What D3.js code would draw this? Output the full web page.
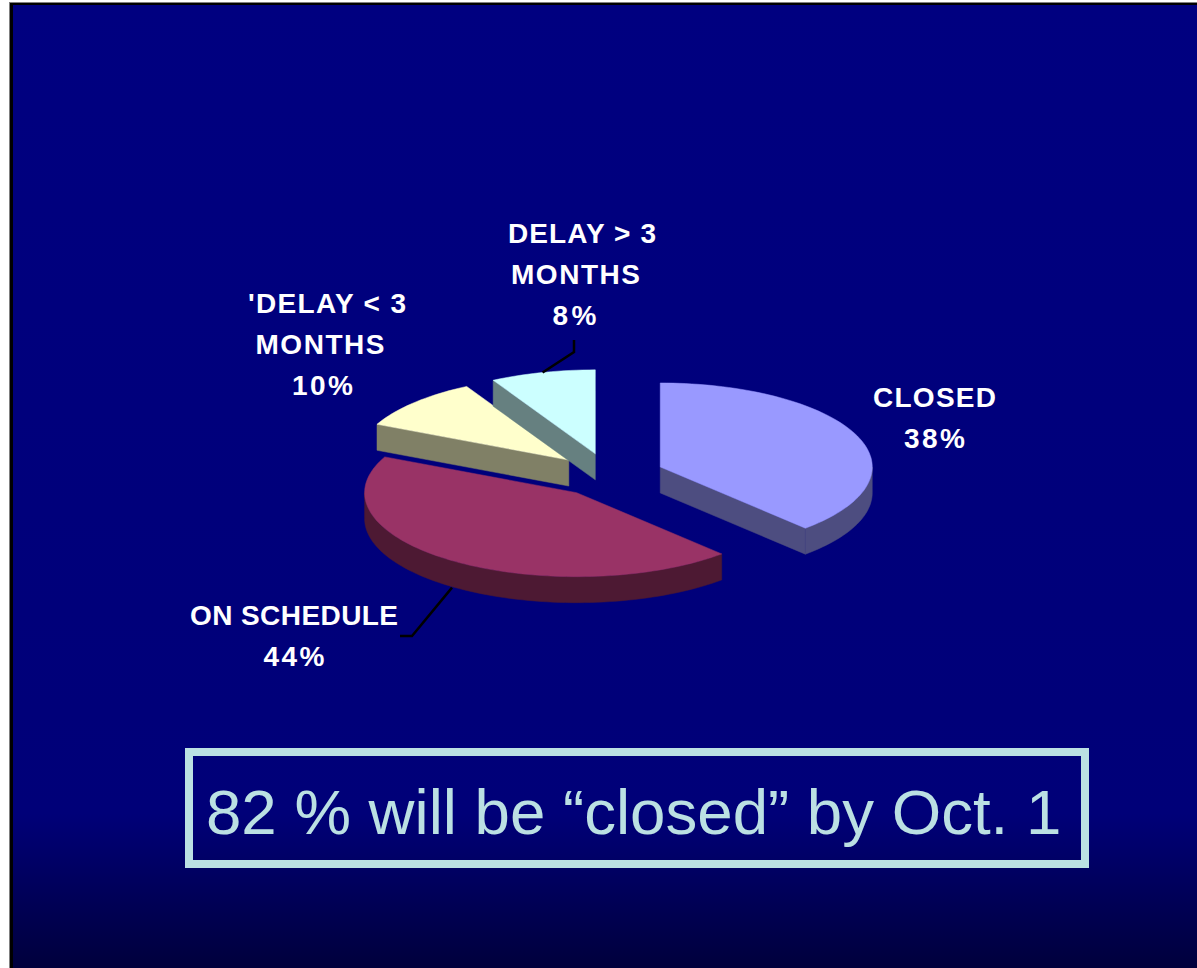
<!DOCTYPE html>
<html>
<head>
<meta charset="utf-8">
<script src="https://cdn.jsdelivr.net/npm/d3@7"></script>
<style>
  body { margin: 0; background: white; }
  svg { display: block; }
  text { font-family: "Liberation Sans", Arial, sans-serif; }
</style>
</head>
<body>
<div id="container"></div>
<script>
// chart values
let categories = ["CLOSED", "ON SCHEDULE", "DELAY < 3 MONTHS", "DELAY > 3 MONTHS"];
let values = [38, 44, 10, 8];
let topColors = ["#9999ff", "#993366", "#ffffcc", "#ccffff"];
let sideColors = ["#4d4d80", "#4d1933", "#808066", "#668080"];
let noteText = "82 % will be \u201cclosed\u201d by Oct. 1";

let w = 1197;
let h = 968;
let explode = 0.26;
let depth = 26;

let viz = d3.select("#container")
  .append("svg")
    .attr("width", w)
    .attr("height", h)
;

// slide background
let defs = viz.append("defs");
let grad = defs.append("linearGradient")
    .attr("id", "bg")
    .attr("x1", 0).attr("y1", 0).attr("x2", 0).attr("y2", 1);
grad.append("stop").attr("offset", "0%").attr("stop-color", "#000080");
grad.append("stop").attr("offset", "84%").attr("stop-color", "#000078");
grad.append("stop").attr("offset", "100%").attr("stop-color", "#00003c");

viz.append("rect").attr("x", 9).attr("y", 2).attr("width", w - 9).attr("height", h - 2).attr("fill", "#808080");
viz.append("rect").attr("x", 10).attr("y", 3).attr("width", w - 10).attr("height", h - 3).attr("fill", "black");
viz.append("rect").attr("x", 13).attr("y", 5).attr("width", w - 13).attr("height", h - 5).attr("fill", "url(#bg)");

// unit circle -> flattened ellipse on screen
let xScale = d3.scaleLinear().domain([-1, 1]).range([609 - 212, 609 + 212]);
let yScale = d3.scaleLinear().domain([-1, 1]).range([475 - 84, 475 + 84]);

let pie = d3.pie().sort(null).startAngle(0).endAngle(2 * Math.PI);
let slices = pie(values);

let lineMaker = d3.line()
    .x(function(d){ return d[0]; })
    .y(function(d){ return d[1]; })
    .curve(d3.curveLinearClosed)
;

// offset of a slice along its middle angle
function midAngle(s){
  return (s.startAngle + s.endAngle) / 2;
}

// screen position, r = 1 is the rim, r = 0 the slice tip
function place(s, a, r, down){
  let m = midAngle(s);
  let ux = explode * Math.sin(m) + r * Math.sin(a);
  let uy = -explode * Math.cos(m) - r * Math.cos(a);
  return [xScale(ux), yScale(uy) + down];
}

function arcAngles(a0, a1){
  let n = Math.max(2, Math.ceil((a1 - a0) / 0.03));
  return d3.range(n + 1).map(function(i){ return a0 + (a1 - a0) * i / n; });
}

function drawFace(g, pts, color){
  g.append("path")
      .attr("d", lineMaker(pts))
      .attr("fill", color)
      .attr("stroke", color)
      .attr("stroke-width", 0.5)
  ;
}

// back to front
let drawOrder = [1, 2, 3, 0];
drawOrder.forEach(function(i){
  let s = slices[i];
  let g = viz.append("g").attr("class", "slice");

  // straight cut walls, only those that turn to the viewer
  if (Math.sin(s.startAngle) < -0.001){
    drawFace(g, [place(s, 0, 0, 0), place(s, s.startAngle, 1, 0), place(s, s.startAngle, 1, depth), place(s, 0, 0, depth)], sideColors[i]);
  }
  if (Math.sin(s.endAngle) > 0.001){
    drawFace(g, [place(s, 0, 0, 0), place(s, s.endAngle, 1, 0), place(s, s.endAngle, 1, depth), place(s, 0, 0, depth)], sideColors[i]);
  }

  // outer rim, front half only
  let a0 = Math.max(s.startAngle, Math.PI / 2);
  let a1 = Math.min(s.endAngle, 3 * Math.PI / 2);
  if (a1 > a0){
    let angles = arcAngles(a0, a1);
    let upper = angles.map(function(a){ return place(s, a, 1, 0); });
    let lower = angles.map(function(a){ return place(s, a, 1, depth); }).reverse();
    drawFace(g, upper.concat(lower), sideColors[i]);
  }

  // top
  let rim = arcAngles(s.startAngle, s.endAngle).map(function(a){ return place(s, a, 1, 0); });
  drawFace(g, [place(s, 0, 0, 0)].concat(rim), topColors[i]);
});

// leader lines start on the slices
function leader(s, down, elbows){
  let start = place(s, midAngle(s), 1, down);
  let pts = [start].concat(elbows);
  viz.append("path")
      .attr("d", d3.line()(pts))
      .attr("fill", "none")
      .attr("stroke", "black")
      .attr("stroke-width", 2.5)
  ;
}
leader(slices[3], 0, [[574, 352], [574, 340]]);
leader(slices[1], depth + 1, [[412, 636], [400, 636]]);

// data labels: text, centre x, baseline y, drawn width
function label(lines){
  lines.forEach(function(l){
    viz.append("text")
        .attr("x", l[1])
        .attr("y", l[2])
        .attr("text-anchor", "middle")
        .attr("fill", "white")
        .attr("font-size", 28)
        .attr("font-weight", "bold")
        .attr("textLength", l[3])
        .attr("lengthAdjust", "spacing")
        .text(l[0])
    ;
  });
}
label([["CLOSED", 934.5, 407, 123], [values[0] + "%", 934.5, 448, 61]]);
label([["ON SCHEDULE", 294, 625, 208], [values[1] + "%", 294, 666, 61]]);
label([["'DELAY < 3", 327, 313, 158], ["MONTHS", 320, 354, 129], [values[2] + "%", 322.5, 395, 61]]);
label([["DELAY > 3", 582, 243, 148], ["MONTHS", 575.5, 284, 129], [values[3] + "%", 574.5, 325, 44]]);

// note box
viz.append("rect")
    .attr("x", 189)
    .attr("y", 752)
    .attr("width", 896)
    .attr("height", 112)
    .attr("fill", "none")
    .attr("stroke", "#bbe0e3")
    .attr("stroke-width", 8)
;
viz.append("text")
    .attr("x", 206)
    .attr("y", 834)
    .attr("fill", "#bbe0e3")
    .attr("font-size", 63.6)
    .text(noteText)
;
</script>
</body>
</html>
